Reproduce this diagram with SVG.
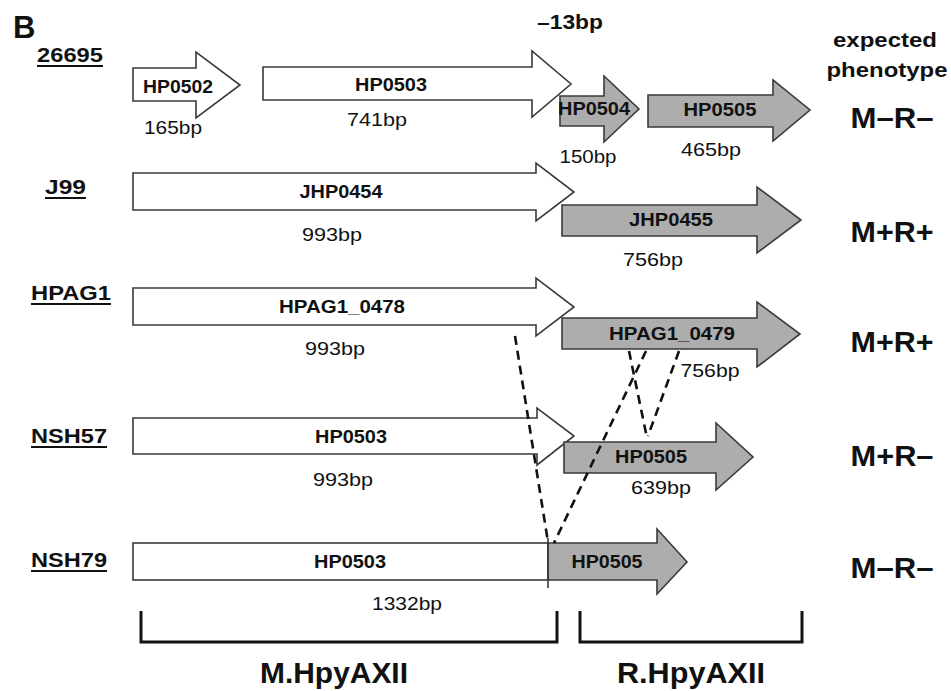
<svg xmlns="http://www.w3.org/2000/svg" width="951" height="691" viewBox="0 0 951 691">
<defs>
<style>
.w{fill:#fff;stroke:#3a3a3a;stroke-width:1.6;stroke-linejoin:miter}
.g{fill:#adadad;stroke:#3a3a3a;stroke-width:1.6;stroke-linejoin:miter}
text{font-family:"Liberation Sans",Arial,sans-serif;fill:#111}
.gn{font-size:18px;font-weight:bold;text-anchor:middle}
.bp{font-size:19px;text-anchor:middle}
.st{font-size:20px;font-weight:bold}
.ph{font-size:29px;font-weight:bold;text-anchor:middle}
.hd{font-size:20px;font-weight:bold;text-anchor:middle}
.bk{font-size:30px;font-weight:bold;text-anchor:middle}
.ul{stroke:#111;stroke-width:2}
.dash{fill:none;stroke:#111;stroke-width:2.6;stroke-dasharray:9 6}
.br{fill:none;stroke:#111;stroke-width:3}
</style>
</defs>
<rect width="951" height="691" fill="#fff"/>
<text x="13" y="38" style="font-size:31px;font-weight:bold">B</text>
<text x="570" y="29" class="hd" textLength="66" lengthAdjust="spacingAndGlyphs">–13bp</text>
<text x="885" y="47" class="hd" textLength="104" lengthAdjust="spacingAndGlyphs">expected</text>
<text x="887" y="77" class="hd" textLength="121" lengthAdjust="spacingAndGlyphs">phenotype</text>

<g id="strain-labels">
<text x="37" y="62" class="st" textLength="66" lengthAdjust="spacingAndGlyphs">26695</text>
<line x1="37" y1="66" x2="103" y2="66" class="ul"/>
<text x="45" y="194" class="st" textLength="41" lengthAdjust="spacingAndGlyphs">J99</text>
<line x1="45" y1="198" x2="86" y2="198" class="ul"/>
<text x="31" y="300" class="st" textLength="80" lengthAdjust="spacingAndGlyphs">HPAG1</text>
<line x1="31" y1="304" x2="111" y2="304" class="ul"/>
<text x="31" y="443" class="st" textLength="76" lengthAdjust="spacingAndGlyphs">NSH57</text>
<line x1="31" y1="447" x2="107" y2="447" class="ul"/>
<text x="31" y="567" class="st" textLength="76" lengthAdjust="spacingAndGlyphs">NSH79</text>
<line x1="31" y1="571" x2="107" y2="571" class="ul"/>
</g>

<g id="r1-HP0502">
<path class="w" d="M133,68 L196,68 L196,52 L240,85 L196,118 L196,101 L133,101 Z"/>
<text x="178" y="93" class="gn" textLength="70" lengthAdjust="spacingAndGlyphs">HP0502</text>
<text x="173" y="134" class="bp" textLength="58" lengthAdjust="spacingAndGlyphs">165bp</text>
</g>
<g id="r1-HP0503">
<path class="w" d="M263,67 L532,67 L532,51 L571,84 L532,117 L532,100 L263,100 Z"/>
<text x="391" y="91" class="gn" textLength="72" lengthAdjust="spacingAndGlyphs">HP0503</text>
<text x="377" y="126" class="bp" textLength="60" lengthAdjust="spacingAndGlyphs">741bp</text>
</g>
<g id="r1-HP0504">
<path class="g" d="M560,96 L604,96 L604,76 L639,109 L604,142 L604,126 L560,126 Z"/>
<text x="594" y="115" class="gn" textLength="72" lengthAdjust="spacingAndGlyphs">HP0504</text>
<text x="588" y="163" class="bp" textLength="57" lengthAdjust="spacingAndGlyphs">150bp</text>
</g>
<g id="r1-HP0505">
<path class="g" d="M648,95 L773,95 L773,80 L810,110 L773,141 L773,127 L648,127 Z"/>
<text x="720" y="116" class="gn" textLength="73" lengthAdjust="spacingAndGlyphs">HP0505</text>
<text x="711" y="156" class="bp" textLength="60" lengthAdjust="spacingAndGlyphs">465bp</text>
</g>
<text x="892" y="128" class="ph" textLength="83" lengthAdjust="spacingAndGlyphs">M–R–</text>

<g id="r2-JHP0454">
<path class="w" d="M133,173 L536,173 L536,163 L574,192 L536,221 L536,210 L133,210 Z"/>
<text x="341" y="198" class="gn" textLength="83" lengthAdjust="spacingAndGlyphs">JHP0454</text>
<text x="332" y="241" class="bp" textLength="60" lengthAdjust="spacingAndGlyphs">993bp</text>
</g>
<g id="r2-JHP0455">
<path class="g" d="M562,205 L757,205 L757,187 L801,220 L757,253 L757,236 L562,236 Z"/>
<text x="671" y="226" class="gn" textLength="84" lengthAdjust="spacingAndGlyphs">JHP0455</text>
<text x="653" y="266" class="bp" textLength="60" lengthAdjust="spacingAndGlyphs">756bp</text>
</g>
<text x="892" y="242" class="ph" textLength="83" lengthAdjust="spacingAndGlyphs">M+R+</text>

<g id="r3-HPAG1_0478">
<path class="w" d="M133,288 L536,288 L536,278 L574,307 L536,336 L536,325 L133,325 Z"/>
<text x="342" y="313" class="gn" textLength="126" lengthAdjust="spacingAndGlyphs">HPAG1_0478</text>
<text x="335" y="355" class="bp" textLength="60" lengthAdjust="spacingAndGlyphs">993bp</text>
</g>
<g id="r3-HPAG1_0479">
<path class="g" d="M562,318 L757,318 L757,302 L800,334 L757,367 L757,349 L562,349 Z"/>
<text x="672" y="340" class="gn" textLength="126" lengthAdjust="spacingAndGlyphs">HPAG1_0479</text>
<text x="710" y="377" class="bp" textLength="59" lengthAdjust="spacingAndGlyphs">756bp</text>
</g>
<text x="892" y="352" class="ph" textLength="83" lengthAdjust="spacingAndGlyphs">M+R+</text>

<g id="r4-HP0503">
<path class="w" d="M133,418 L537,418 L537,408 L574,436 L537,465 L537,454 L133,454 Z"/>
<text x="351" y="443" class="gn" textLength="72" lengthAdjust="spacingAndGlyphs">HP0503</text>
<text x="343" y="486" class="bp" textLength="60" lengthAdjust="spacingAndGlyphs">993bp</text>
</g>
<g id="r4-HP0505">
<path class="g" d="M564,442 L716,442 L716,423 L753,457 L716,490 L716,473 L564,473 Z"/>
<text x="651" y="463" class="gn" textLength="72" lengthAdjust="spacingAndGlyphs">HP0505</text>
<text x="661" y="494" class="bp" textLength="60" lengthAdjust="spacingAndGlyphs">639bp</text>
</g>
<text x="892" y="466" class="ph" textLength="83" lengthAdjust="spacingAndGlyphs">M+R–</text>

<g id="r5-HP0503">
<rect class="w" x="133" y="543" width="415" height="37"/>
<text x="350" y="568" class="gn" textLength="72" lengthAdjust="spacingAndGlyphs">HP0503</text>
<text x="407" y="610" class="bp" textLength="70" lengthAdjust="spacingAndGlyphs">1332bp</text>
</g>
<g id="r5-HP0505">
<path class="g" d="M548,543 L657,543 L657,529 L687,562 L657,594 L657,580 L548,580 Z"/>
<line x1="548" y1="538" x2="548" y2="588" stroke="#3a3a3a" stroke-width="1.6"/>
<text x="607" y="568" class="gn" textLength="71" lengthAdjust="spacingAndGlyphs">HP0505</text>
</g>
<text x="892" y="578" class="ph" textLength="83" lengthAdjust="spacingAndGlyphs">M–R–</text>

<g id="connectors">
<line class="dash" x1="515" y1="336" x2="548" y2="542"/>
<line class="dash" x1="629" y1="351" x2="647" y2="438"/>
<line class="dash" x1="679" y1="351" x2="648" y2="436"/>
<line class="dash" x1="646" y1="351" x2="554" y2="543"/>
</g>

<g id="M-HpyAXII">
<path class="br" d="M141,611 L141,642 L557,642 L557,611"/>
<text x="334" y="683" class="bk" textLength="148" lengthAdjust="spacingAndGlyphs">M.HpyAXII</text>
</g>
<g id="R-HpyAXII">
<path class="br" d="M580,611 L580,642 L802,642 L802,611"/>
<text x="691" y="683" class="bk" textLength="148" lengthAdjust="spacingAndGlyphs">R.HpyAXII</text>
</g>
</svg>
